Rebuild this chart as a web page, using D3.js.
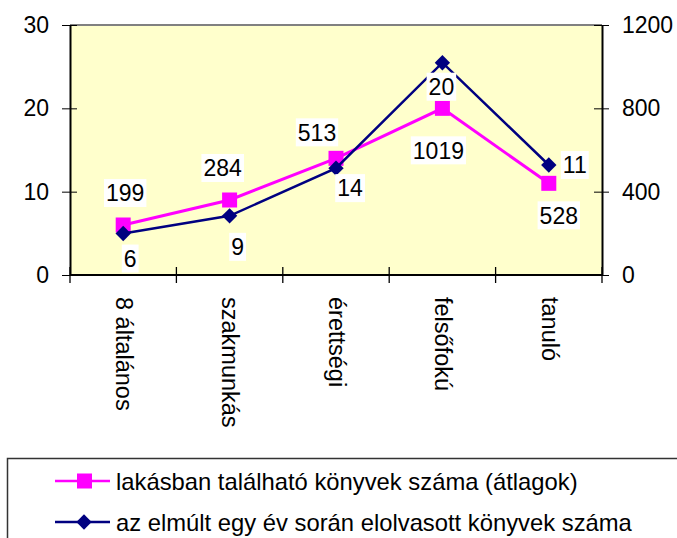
<!DOCTYPE html>
<html>
<head>
<meta charset="utf-8">
<script src="https://cdn.jsdelivr.net/npm/d3@7"></script>
<style>
  body { margin: 0; background: #fff; }
  svg { display: block; font-family: "Liberation Sans", Arial, sans-serif; }
  .axis path, .axis line { stroke: #000; }
</style>
</head>
<body>
<svg width="677" height="538"></svg>
<script>
var categories = ["8 általános", "szakmunkás", "érettségi", "felsőfokú", "tanuló"];
// pink squares, read on the left axis
var pinkValues = [6, 9, 14, 20, 11];
// navy diamonds, read on the right axis
var navyValues = [199, 284, 513, 1019, 528];
var leftTicks = [0, 10, 20, 30];
var rightTicks = [0, 400, 800, 1200];
var legendLabels = ["lakásban található könyvek száma (átlagok)",
                    "az elmúlt egy év során elolvasott könyvek száma"];

var svg = d3.select("svg"),
    margin = {top: 25, right: 75, bottom: 263, left: 70},
    width = +svg.attr("width") - margin.left - margin.right,
    height = +svg.attr("height") - margin.top - margin.bottom;

var pink = "#ff00ff", navy = "#000080";

var x = d3.scaleBand().domain(categories).range([0, width]);
var yL = d3.scaleLinear().domain([0, 30]).range([height, 0]);
var yR = d3.scaleLinear().domain([0, 1200]).range([height, 0]);
function cx(d, i) { return x(categories[i]) + x.bandwidth() / 2; }

var g = svg.append("g")
    .attr("transform", "translate(" + margin.left + "," + margin.top + ")");

g.append("rect")
    .attr("width", width)
    .attr("height", height)
    .attr("fill", "#ffffcc");

g.append("line")
    .attr("x1", 0).attr("x2", width)
    .attr("y1", 0).attr("y2", 0)
    .attr("stroke", "#808080")
    .attr("stroke-width", 2);

// left axis, ticks crossing the line
var left = g.append("g").attr("class", "axis")
    .call(d3.axisLeft(yL).tickValues(leftTicks).tickSize(8).tickSizeOuter(0).tickPadding(13));
left.selectAll(".tick line").attr("x2", 7).attr("x1", -8);
left.select(".domain").attr("stroke-width", 2);

var right = g.append("g").attr("class", "axis")
    .attr("transform", "translate(" + width + ",0)")
    .call(d3.axisRight(yR).tickValues(rightTicks).tickFormat(d3.format("d"))
      .tickSize(8).tickSizeOuter(0).tickPadding(12));
right.selectAll(".tick line").attr("x1", -8).attr("x2", 7);
right.select(".domain").attr("stroke-width", 2);

svg.selectAll(".axis text")
    .attr("font-size", 23)
    .attr("font-family", "Liberation Sans, Arial, sans-serif")
    .attr("fill", "#000");

// bottom axis: ticks between categories
var bottom = g.append("g")
    .attr("transform", "translate(0," + height + ")");
bottom.append("line")
    .attr("x1", 0).attr("x2", width)
    .attr("stroke", "#000").attr("stroke-width", 2);
bottom.selectAll(".sep")
    .data(d3.range(categories.length + 1))
    .enter().append("line")
    .attr("x1", function(i) { return i * x.step(); })
    .attr("x2", function(i) { return i * x.step(); })
    .attr("y1", -8).attr("y2", 8)
    .attr("stroke", "#000").attr("stroke-width", 1.3);
bottom.selectAll(".cat")
    .data(categories)
    .enter().append("text")
    .attr("transform", function(d) {
      return "translate(" + (x(d) + x.bandwidth() / 2 + 1) + ",22) rotate(90)";
    })
    .attr("dy", "0.35em")
    .attr("font-size", 23.5)
    .text(function(d) { return d; });

var linePink = d3.line().x(cx).y(function(d) { return yL(d); });
var lineNavy = d3.line().x(cx).y(function(d) { return yR(d); });

g.append("path")
    .datum(pinkValues)
    .attr("d", linePink)
    .attr("fill", "none")
    .attr("stroke", pink)
    .attr("stroke-width", 3);

g.selectAll(".sq")
    .data(pinkValues)
    .enter().append("rect")
    .attr("x", function(d, i) { return cx(d, i) - 7.5; })
    .attr("y", function(d) { return yL(d) - 7.5; })
    .attr("width", 15).attr("height", 15)
    .attr("fill", pink);

g.append("path")
    .datum(navyValues)
    .attr("d", lineNavy)
    .attr("fill", "none")
    .attr("stroke", navy)
    .attr("stroke-width", 2.5);

var diamond = d3.symbol().type(d3.symbolDiamond2).size(150);
g.selectAll(".dm")
    .data(navyValues)
    .enter().append("path")
    .attr("transform", function(d, i) {
      return "translate(" + cx(d, i) + "," + yR(d) + ")";
    })
    .attr("d", diamond)
    .attr("fill", navy);

// data labels (the original chart shows each series' numbers at the other series' marks)
var pinkNudge = [[2, -32], [-7, -32], [-19, -26], [-4, 42], [10, 32]];
var navyNudge = [[7, 25], [8, 31], [14, 20], [-1, 24], [26, 0]];

function addLabel(px, py, txt) {
  var lab = g.append("g").attr("transform", "translate(" + px + "," + py + ")");
  var t = lab.append("text")
      .attr("text-anchor", "middle")
      .attr("dy", "0.36em")
      .attr("font-size", 23)
      .text(txt);
  var b = t.node().getBBox();
  lab.insert("rect", "text")
      .attr("x", b.x - 2).attr("y", -14)
      .attr("width", b.width + 4).attr("height", 28)
      .attr("fill", "#fff");
}
pinkValues.forEach(function(d, i) {
  addLabel(cx(d, i) + pinkNudge[i][0], yL(d) + pinkNudge[i][1], navyValues[i]);
});
navyValues.forEach(function(d, i) {
  addLabel(cx(d, i) + navyNudge[i][0], yR(d) + navyNudge[i][1], pinkValues[i]);
});

// legend
var legend = svg.append("g");
legend.append("rect")
    .attr("x", 7.5).attr("y", 458.5)
    .attr("width", 720).attr("height", 120)
    .attr("fill", "#fff")
    .attr("stroke", "#333")
    .attr("stroke-width", 1.5);

var rows = legend.selectAll(".row")
    .data(legendLabels)
    .enter().append("g")
    .attr("transform", function(d, i) { return "translate(0," + (481 + i * 41) + ")"; });
rows.append("line")
    .attr("x1", 55).attr("x2", 110)
    .attr("stroke", function(d, i) { return i ? navy : pink; })
    .attr("stroke-width", 2.5);
rows.filter(function(d, i) { return i === 0; }).append("rect")
    .attr("x", 77).attr("y", -7.5).attr("width", 15).attr("height", 15)
    .attr("fill", pink);
rows.filter(function(d, i) { return i === 1; }).append("path")
    .attr("transform", "translate(84,0)")
    .attr("d", diamond)
    .attr("fill", navy);
rows.append("text")
    .attr("x", 116)
    .attr("dy", "0.36em")
    .attr("font-size", 23.8)
    .text(function(d) { return d; });
</script>
</body>
</html>
